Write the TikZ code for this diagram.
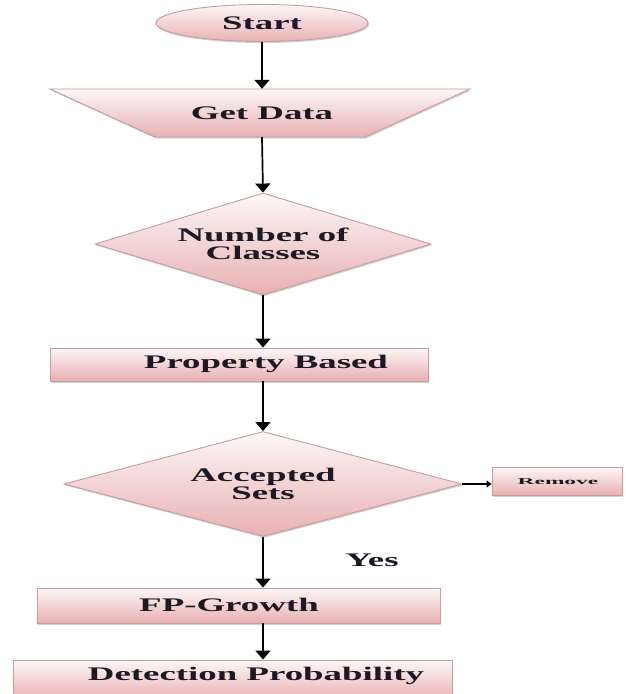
\documentclass[tikz,border=0pt]{standalone}
\usepackage{fontspec}
\setmainfont[FakeStretch=1.92]{Liberation Serif}
\newfontfamily\smallfont[FakeStretch=2.6]{Liberation Serif}
\usetikzlibrary{shapes.geometric,arrows.meta,shadows}
\definecolor{boxtop}{RGB}{253,247,247}
\definecolor{boxbot}{RGB}{232,176,178}
\definecolor{boxline}{RGB}{198,156,158}
\definecolor{ink}{RGB}{28,24,36}
\begin{document}
\begin{tikzpicture}[x=1pt,y=-1pt,
  shapebox/.style={draw=boxline, line width=0.9pt, top color=boxtop, bottom color=boxbot, inner sep=0pt,
    drop shadow={shadow xshift=1pt,shadow yshift=-1.5pt,opacity=0.35,fill=gray}},
  lbl/.style={font=\bfseries\fontsize{19.2}{18.5}\selectfont, text=ink, align=center, inner sep=0pt},
  arr/.style={-{Triangle[width=15pt,length=9pt]}, line width=1.7pt, black},
]
\clip (0,0) rectangle (626,694);
\fill[white] (0,0) rectangle (626,694);

% Start
\node[shapebox, ellipse, minimum width=212pt, minimum height=37pt, lbl] (start) at (262,23) {Start};

% Get Data (trapezoid, wide on top)
\path[shapebox] (50,89) -- (470,89) -- (365,137) -- (155,137) -- cycle;
\node[lbl, minimum width=420pt, minimum height=48pt] (gd) at (262,113) {Get Data};

% Number of Classes
\node[shapebox, diamond, aspect=3.3, minimum width=336pt, minimum height=102pt, lbl] (noc) at (263,244) {Number of\\Classes};

% Property Based
\node[shapebox, minimum width=378pt, minimum height=33pt] (pb) at (239,364.5) {};
\node[lbl] (pbt) at (266,364) {Property Based};

% Accepted Sets
\node[shapebox, diamond, aspect=3.3, minimum width=398pt, minimum height=105pt, lbl] (acc) at (263,484) {Accepted\\Sets};

% Remove
\node[shapebox, minimum width=130pt, minimum height=28pt] (rm) at (557,481) {};
\node[font=\smallfont\bfseries\fontsize{9}{9}\selectfont, text=ink, inner sep=0pt] (rmt) at (558,482) {Remove};

% Yes
\node[lbl] (yes) at (372,560) {Yes};

% FP-Growth
\node[shapebox, minimum width=403pt, minimum height=35pt] (fp) at (238.5,605.5) {};
\node[lbl] (fpt) at (229,605) {FP-Growth};

% Detection Probability
\node[shapebox, minimum width=439pt, minimum height=40pt] (dp) at (232.5,680) {};
\node[lbl] (dpt) at (256,676) {Detection Probability};

% connectors
\draw[arr] (start.south) -- (gd.north);
\draw[arr] (gd.south) -- (noc.north);
\draw[arr] (noc.south) -- (noc.south |- pb.north);
\draw[arr] (noc.south |- pb.south) -- (acc.north);
\draw[line width=1.6pt, -{Triangle[width=7pt,length=5pt]}] (acc.east) -- (acc.east -| rm.west);
\draw[arr] (acc.south) -- (acc.south |- fp.north);
\draw[arr] (acc.south |- fp.south) -- (acc.south |- dp.north);
\end{tikzpicture}
\end{document}
